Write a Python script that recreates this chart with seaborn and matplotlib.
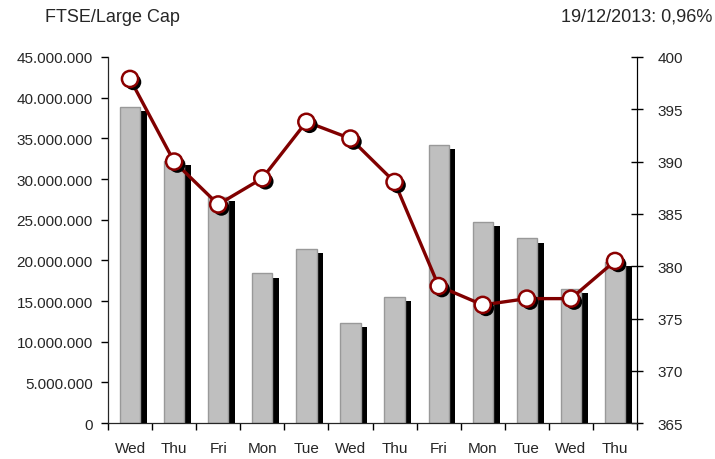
import numpy as np
import pandas as pd
import matplotlib
matplotlib.use("Agg")
import matplotlib.pyplot as plt
import matplotlib.patheffects as pe
from matplotlib.ticker import FuncFormatter, MultipleLocator, FixedLocator
import seaborn as sns

days = ["Wed", "Thu", "Fri", "Mon", "Tue", "Wed", "Thu", "Fri", "Mon", "Tue", "Wed", "Thu"]
volume = [38.85e6, 32.2e6, 27.8e6, 18.4e6, 21.4e6, 12.3e6, 15.5e6, 34.2e6, 24.7e6, 22.7e6, 16.5e6, 19.8e6]
index_level = [397.9, 390.0, 385.9, 388.4, 393.8, 392.2, 388.05, 378.1, 376.3, 376.9, 376.9, 380.5]

df = pd.DataFrame({"pos": range(len(days)), "day": days, "volume": volume, "level": index_level})

sns.set_style("ticks")
plt.rcParams["font.family"] = ["Liberation Sans", "DejaVu Sans"]

fig = plt.figure(figsize=(7.15, 4.6), dpi=100)
ax = fig.add_axes([0.151, 0.078, 0.740, 0.796])

# bars with a black drop shadow
sns.barplot(data=df, x="pos", y="volume", color="#bfbfbf", width=0.46,
            edgecolor="#999999", linewidth=1, saturation=1, ax=ax)
for p in ax.patches:
    p.set_path_effects([pe.SimplePatchShadow(offset=(4.8, -3), shadow_rgbFace="black", alpha=1),
                        pe.Normal()])

ax.set_xlim(-0.5, len(days) - 0.5)
ax.set_ylim(0, 45e6)
ax.yaxis.set_major_locator(MultipleLocator(5e6))
ax.yaxis.set_major_formatter(FuncFormatter(lambda v, _: f"{int(v):,}".replace(",", ".")))
ax.set_xticks(range(len(days)))
ax.set_xticklabels(days)
ax.xaxis.set_minor_locator(FixedLocator(np.arange(-0.5, len(days), 1.0)))
ax.tick_params(axis="x", which="major", length=0, pad=13, labelsize=11)
ax.tick_params(axis="x", which="minor", length=5, width=1, direction="out", color="black")
ax.tick_params(axis="y", length=5, width=1, direction="out", labelsize=11, color="black", pad=6)
ax.set_xlabel("")
ax.set_ylabel("")
for s in ["left", "bottom", "right"]:
    ax.spines[s].set_color("black")
ax.spines["top"].set_visible(False)

# index line on right axis
ax2 = ax.twinx()
sns.lineplot(data=df, x="pos", y="level", color="#800000", linewidth=2.4, ax=ax2)
sns.scatterplot(data=df, x="pos", y="level", s=135, color="white", edgecolor="#8b0000",
                linewidth=1.8, zorder=5, ax=ax2)
ax2.collections[-1].set_path_effects([pe.SimplePatchShadow(offset=(2.3, -2.3), shadow_rgbFace="black", alpha=1),
                                      pe.Normal()])
ax2.set_ylim(365, 400)
ax2.yaxis.set_major_locator(MultipleLocator(5))
ax2.tick_params(axis="y", length=9, width=1, direction="inout", labelsize=11, color="black", pad=10)
ax2.set_xlabel("")
ax2.set_ylabel("")
ax2.spines["top"].set_visible(False)
ax2.spines["right"].set_color("black")
ax2.set_xlim(-0.5, len(days) - 0.5)

fig.text(0.063, 0.962, "FTSE/Large Cap", fontsize=13, va="center", ha="left")
fig.text(0.996, 0.962, "19/12/2013: 0,96%", fontsize=13, va="center", ha="right")

fig.savefig("out.png", dpi=100)
